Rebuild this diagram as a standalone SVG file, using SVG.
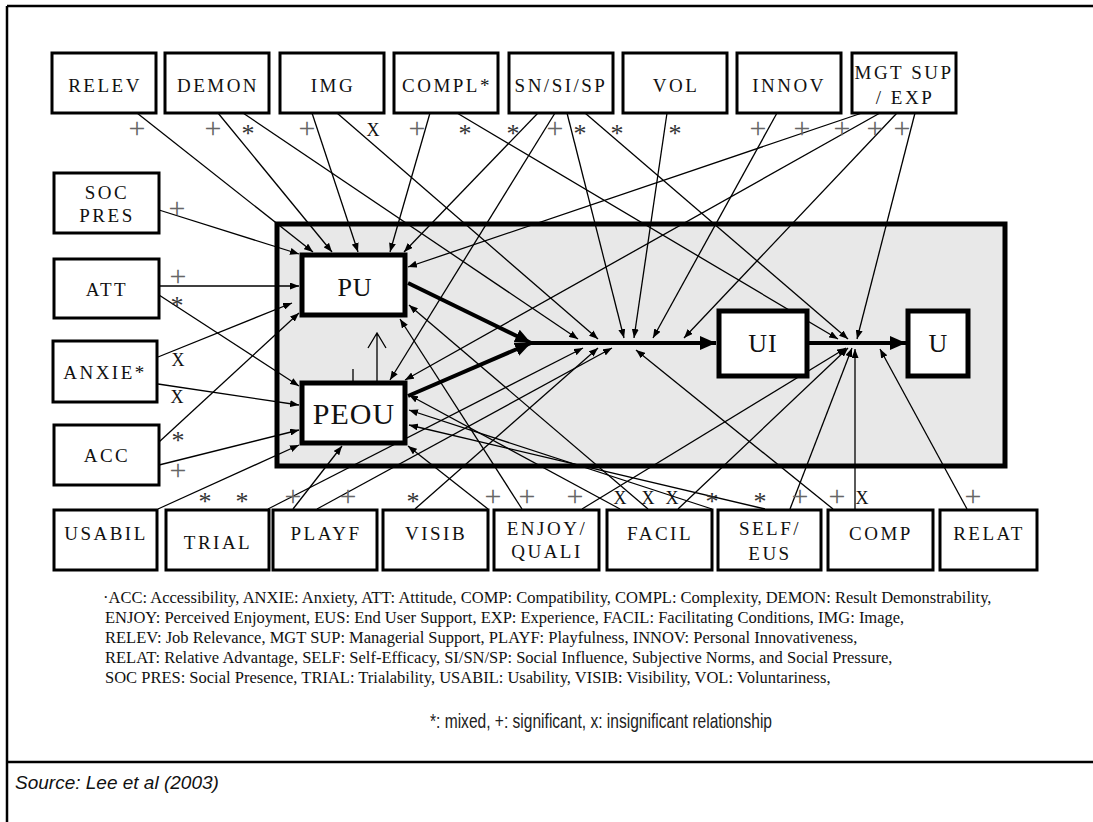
<svg xmlns="http://www.w3.org/2000/svg" width="1093" height="822" viewBox="0 0 1093 822">
<style>
.bg{fill:#fff}
.box{fill:#fff;stroke:#000;stroke-width:3}
.core{fill:#fff;stroke:#000;stroke-width:5}
.gray{fill:#e8e8e8;stroke:#000;stroke-width:5}
.lbl{font-family:"Liberation Serif",serif;font-size:19px;letter-spacing:2.5px;text-anchor:middle;fill:#111}
.big{font-family:"Liberation Serif",serif;text-anchor:middle;fill:#111}
.c line{stroke:#000;stroke-width:1.3;marker-end:url(#ah)}
.t line{stroke:#000;stroke-width:4;marker-end:url(#tah)}
.p{font-family:"Liberation Serif",serif;font-size:30px;fill:#666;text-anchor:middle}
.s{font-family:"Liberation Serif",serif;font-size:26px;fill:#333;text-anchor:middle}
.x{font-family:"Liberation Serif",serif;font-size:18px;fill:#111;text-anchor:middle}
.leg{font-family:"Liberation Serif",serif;font-size:16.5px;fill:#111}
.frame{stroke:#000;stroke-width:2.5;fill:none}
</style>
<defs>
<marker id="ah" markerUnits="userSpaceOnUse" markerWidth="9" markerHeight="7" refX="9" refY="3.5" orient="auto"><path d="M0,0 L9,3.5 L0,7 z" fill="#000"/></marker>
<marker id="tah" markerUnits="userSpaceOnUse" markerWidth="16" markerHeight="14" refX="16" refY="7" orient="auto"><path d="M0,0 L16,7 L0,14 z" fill="#000"/></marker>
</defs>
<rect class="bg" x="0" y="0" width="1093" height="822"/>
<path class="frame" d="M7,6 H1093 M7,6 V822 M7,762 H1093"/>

<g id="system"><rect class="gray" x="277" y="224" width="728" height="242"/></g>

<g id="connectors">
<g class="c">
<line x1="137" y1="113" x2="313" y2="252"/>
<line x1="218" y1="113" x2="332" y2="252"/>
<line x1="243" y1="113" x2="578" y2="339"/>
<line x1="312" y1="113" x2="358" y2="252"/>
<line x1="337" y1="113" x2="598" y2="339"/>
<line x1="430" y1="113" x2="390" y2="252"/>
<line x1="457" y1="113" x2="838" y2="339"/>
<line x1="538" y1="113" x2="404" y2="252"/>
<line x1="555" y1="113" x2="390" y2="380"/>
<line x1="567" y1="113" x2="624" y2="338"/>
<line x1="585" y1="113" x2="848" y2="339"/>
<line x1="667" y1="113" x2="634" y2="338"/>
<line x1="777" y1="113" x2="653" y2="338"/>
<line x1="862" y1="113" x2="408" y2="267"/>
<line x1="880" y1="113" x2="405" y2="380"/>
<line x1="897" y1="113" x2="684" y2="338"/>
<line x1="915" y1="113" x2="857" y2="339"/>
<line x1="159" y1="210" x2="299" y2="254"/>
<line x1="159" y1="286" x2="299" y2="286"/>
<line x1="159" y1="295" x2="299" y2="386"/>
<line x1="158" y1="357" x2="292" y2="303"/>
<line x1="158" y1="384" x2="299" y2="405"/>
<line x1="159" y1="442" x2="299" y2="313"/>
<line x1="159" y1="465" x2="299" y2="430"/>
<line x1="158" y1="509" x2="299" y2="445"/>
<line x1="268" y1="509" x2="583" y2="348"/>
<line x1="293" y1="509" x2="342" y2="446"/>
<line x1="317" y1="509" x2="612" y2="348"/>
<line x1="415" y1="509" x2="598" y2="348"/>
<line x1="488" y1="509" x2="408" y2="446"/>
<line x1="522" y1="509" x2="400" y2="319"/>
<line x1="582" y1="509" x2="846" y2="348"/>
<line x1="620" y1="509" x2="409" y2="395"/>
<line x1="648" y1="509" x2="409" y2="305"/>
<line x1="678" y1="509" x2="848" y2="348"/>
<line x1="712" y1="509" x2="409" y2="410"/>
<line x1="765" y1="509" x2="409" y2="425"/>
<line x1="790" y1="509" x2="852" y2="348"/>
<line x1="833" y1="509" x2="636" y2="350"/>
<line x1="855" y1="509" x2="855" y2="349"/>
<line x1="967" y1="509" x2="880" y2="349"/>
</g>
<g class="t">
<line x1="408" y1="283" x2="531" y2="343"/>
<line x1="408" y1="396" x2="531" y2="343"/>
<line x1="529" y1="343" x2="716" y2="343"/>
<line x1="808" y1="343" x2="906" y2="343"/>
</g>
<path d="M377,405 V334 M368,348 L377,333 L386,348" stroke="#000" stroke-width="1.3" fill="none"/>
<line x1="353" y1="369" x2="353" y2="392" stroke="#000" stroke-width="1.3"/>
</g>

<g id="marks">
<text class="p" x="137" y="138">+</text>
<text class="p" x="213" y="138">+</text>
<text class="s" x="248" y="142">*</text>
<text class="p" x="307" y="138">+</text>
<text class="x" x="373" y="136">X</text>
<text class="p" x="417" y="138">+</text>
<text class="s" x="465" y="142">*</text>
<text class="s" x="513" y="142">*</text>
<text class="p" x="555" y="138">+</text>
<text class="s" x="580" y="142">*</text>
<text class="s" x="617" y="142">*</text>
<text class="s" x="675" y="142">*</text>
<text class="p" x="758" y="138">+</text>
<text class="p" x="802" y="138">+</text>
<text class="p" x="842" y="138">+</text>
<text class="p" x="875" y="138">+</text>
<text class="p" x="902" y="138">+</text>
<text class="p" x="177" y="218">+</text>
<text class="p" x="178" y="286">+</text>
<text class="s" x="177" y="314">*</text>
<text class="x" x="178" y="366">X</text>
<text class="x" x="177" y="403">X</text>
<text class="s" x="178" y="449">*</text>
<text class="p" x="178" y="480">+</text>
<text class="s" x="205" y="510">*</text>
<text class="s" x="242" y="510">*</text>
<text class="p" x="293" y="506">+</text>
<text class="p" x="348" y="506">+</text>
<text class="s" x="413" y="510">*</text>
<text class="p" x="493" y="506">+</text>
<text class="p" x="527" y="506">+</text>
<text class="p" x="575" y="506">+</text>
<text class="x" x="620" y="504">X</text>
<text class="x" x="648" y="504">X</text>
<text class="x" x="672" y="504">X</text>
<text class="s" x="712" y="510">*</text>
<text class="s" x="760" y="510">*</text>
<text class="p" x="800" y="506">+</text>
<text class="p" x="837" y="506">+</text>
<text class="x" x="862" y="504">X</text>
<text class="p" x="973" y="506">+</text>
</g>

<g id="PU"><rect class="core" x="302" y="255" width="103" height="60"/><text class="big" x="355" y="296" font-size="26" letter-spacing="1">PU</text></g>
<g id="PEOU"><rect class="core" x="302" y="383" width="103" height="60"/><text class="big" x="354" y="424" font-size="30" letter-spacing="1">PEOU</text></g>
<g id="UI"><rect class="core" x="719" y="311" width="88" height="65"/><text class="big" x="763" y="352" font-size="26" letter-spacing="1">UI</text></g>
<g id="U"><rect class="core" x="908" y="311" width="60" height="65"/><text class="big" x="938" y="352" font-size="26">U</text></g>

<g id="RELEV"><rect class="box" x="52" y="53" width="104" height="60"/><text class="lbl" x="105" y="92">RELEV</text></g>
<g id="DEMON"><rect class="box" x="165" y="53" width="104" height="60"/><text class="lbl" x="218" y="92">DEMON</text></g>
<g id="IMG"><rect class="box" x="280" y="53" width="104" height="60"/><text class="lbl" x="333" y="92">IMG</text></g>
<g id="COMPL"><rect class="box" x="394" y="53" width="104" height="60"/><text class="lbl" x="447" y="92" letter-spacing="1.5">COMPL*</text></g>
<g id="SNSISP"><rect class="box" x="509" y="53" width="104" height="60"/><text class="lbl" x="561" y="92" letter-spacing="1">SN/SI/SP</text></g>
<g id="VOL"><rect class="box" x="623" y="53" width="104" height="60"/><text class="lbl" x="676" y="92">VOL</text></g>
<g id="INNOV"><rect class="box" x="737" y="53" width="104" height="60"/><text class="lbl" x="789" y="92" letter-spacing="1.5">INNOV</text></g>
<g id="MGTSUP"><rect class="box" x="852" y="53" width="104" height="60"/><text class="lbl" x="904" y="79" letter-spacing="1.5">MGT SUP</text><text class="lbl" x="905" y="104" letter-spacing="1.5">/ EXP</text></g>

<g id="SOCPRES"><rect class="box" x="54" y="173" width="105" height="60"/><text class="lbl" x="107" y="199">SOC</text><text class="lbl" x="107" y="222">PRES</text></g>
<g id="ATT"><rect class="box" x="54" y="259" width="105" height="59"/><text class="lbl" x="107" y="296">ATT</text></g>
<g id="ANXIE"><rect class="box" x="53" y="341" width="104" height="61"/><text class="lbl" x="105" y="379" letter-spacing="2">ANXIE*</text></g>
<g id="ACC"><rect class="box" x="54" y="425" width="105" height="60"/><text class="lbl" x="107" y="462">ACC</text></g>

<g id="USABIL"><rect class="box" x="54" y="510" width="103" height="60"/><text class="lbl" x="106" y="540" letter-spacing="2">USABIL</text></g>
<g id="TRIAL"><rect class="box" x="166" y="510" width="103" height="60" stroke-width="4"/><text class="lbl" x="218" y="549" letter-spacing="2">TRIAL</text></g>
<g id="PLAYF"><rect class="box" x="273" y="510" width="104" height="60"/><text class="lbl" x="326" y="540">PLAYF</text></g>
<g id="VISIB"><rect class="box" x="383" y="510" width="105" height="60"/><text class="lbl" x="436" y="540">VISIB</text></g>
<g id="ENJOY"><rect class="box" x="494" y="510" width="105" height="60"/><text class="lbl" x="547" y="535">ENJOY/</text><text class="lbl" x="547" y="558">QUALI</text></g>
<g id="FACIL"><rect class="box" x="607" y="510" width="105" height="60"/><text class="lbl" x="660" y="540">FACIL</text></g>
<g id="SELFEUS"><rect class="box" x="718" y="510" width="103" height="60"/><text class="lbl" x="770" y="535">SELF/</text><text class="lbl" x="770" y="560">EUS</text></g>
<g id="COMP"><rect class="box" x="828" y="510" width="105" height="60"/><text class="lbl" x="881" y="540">COMP</text></g>
<g id="RELAT"><rect class="box" x="940" y="510" width="97" height="60"/><text class="lbl" x="989" y="540">RELAT</text></g>

<g id="legend">
<text class="leg" x="103" y="603">·ACC: Accessibility, ANXIE: Anxiety, ATT: Attitude, COMP: Compatibility, COMPL: Complexity, DEMON: Result Demonstrability,</text>
<text class="leg" x="105" y="623">ENJOY: Perceived Enjoyment, EUS: End User Support, EXP: Experience, FACIL: Facilitating Conditions, IMG: Image,</text>
<text class="leg" x="105" y="643">RELEV: Job Relevance, MGT SUP: Managerial Support, PLAYF: Playfulness, INNOV: Personal Innovativeness,</text>
<text class="leg" x="105" y="663">RELAT: Relative Advantage, SELF: Self-Efficacy, SI/SN/SP: Social Influence, Subjective Norms, and Social Pressure,</text>
<text class="leg" x="105" y="683">SOC PRES: Social Presence, TRIAL: Trialability, USABIL: Usability, VISIB: Visibility, VOL: Voluntariness,</text>
<text x="430" y="728" font-family="Liberation Sans, Arial, sans-serif" font-size="21" fill="#222" textLength="342" lengthAdjust="spacingAndGlyphs">*: mixed, +: significant, x: insignificant relationship</text>
<text x="15" y="789" font-family="Liberation Sans, Arial, sans-serif" font-size="19" font-style="italic" fill="#111">Source: Lee et al (2003)</text>
</g>
</svg>
